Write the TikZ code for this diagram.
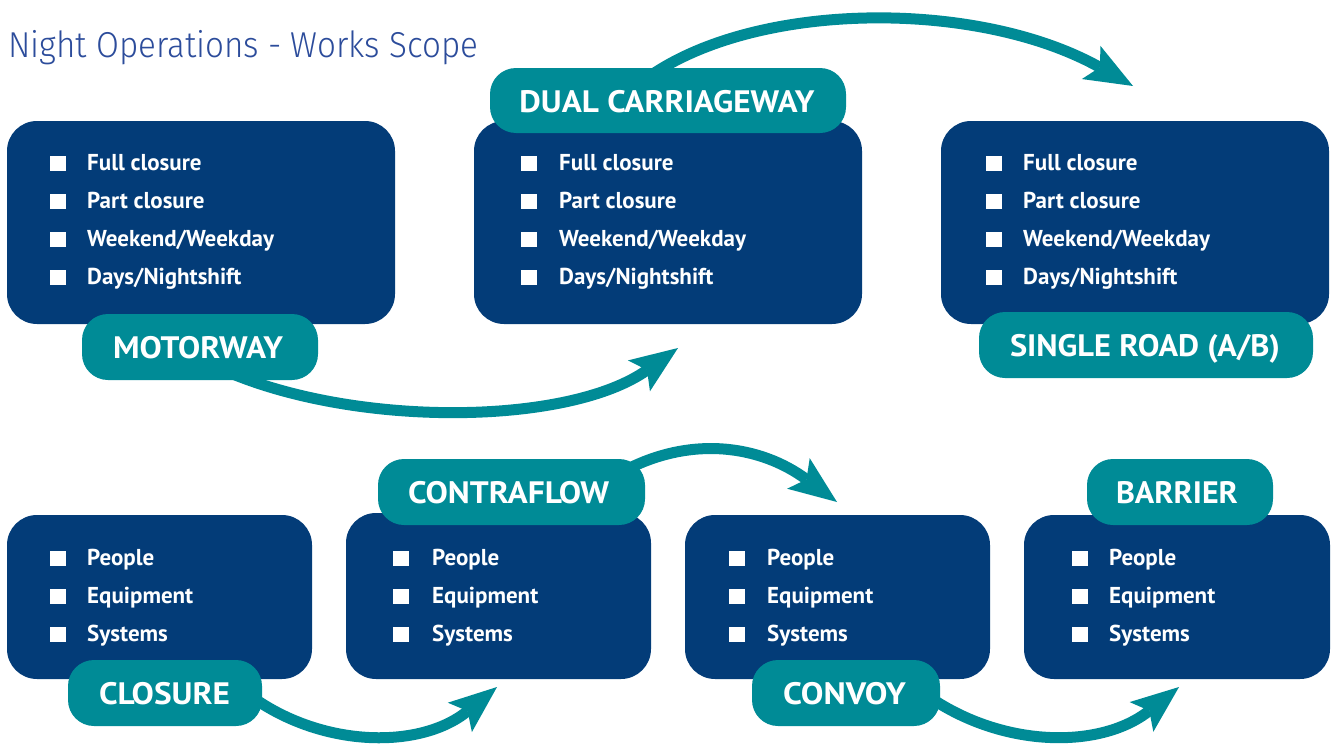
\documentclass[tikz,border=0pt]{standalone}
\usepackage{graphicx}
\usepackage{fontspec}
\setmainfont{PT Sans}
\newfontfamily\titlefont{Fira Sans Light}
\usetikzlibrary{arrows.meta}
\definecolor{navyc}{RGB}{3,60,120}
\definecolor{tealc}{RGB}{0,139,150}
\definecolor{titlec}{RGB}{44,76,155}
\newcommand\fitw[2]{\resizebox{#1}{\height}{#2}}
\tikzset{
  navybox/.style={fill=navyc, rounded corners=30pt, inner sep=0pt},
  lab/.style={fill=tealc, rounded corners=26pt, inner sep=0pt, minimum height=66pt},
  labtxt/.style={anchor=base, text=white, inner sep=0pt, font=\bfseries\fontsize{31}{34}\selectfont},
  item/.style={anchor=base west, text=white, inner sep=0pt, font=\bfseries\fontsize{23}{26}\selectfont},
  bul/.style={fill=white, inner sep=0pt, minimum width=16pt, minimum height=15pt},
  arr/.style={draw=tealc, line width=11pt, -{Stealth[length=48pt,width=38pt,inset=10pt,line width=0pt]}}
}
\begin{document}
\begin{tikzpicture}[x=1pt,y=-1pt]
\useasboundingbox (0,0) rectangle (1336,744);
% title
\node[anchor=base west, inner sep=0pt, text=titlec, font=\titlefont\fontsize{36}{40}\selectfont] (title) at (8,57) {\fitw{470pt}{Night Operations - Works Scope}};
% arrow end points
\coordinate (a1s) at (228,372);
\coordinate (a1e) at (678,348);
\coordinate (a2s) at (650,76);
\coordinate (a2e) at (1133,86);
\coordinate (a3s) at (248,694);
\coordinate (a3e) at (497,687);
\coordinate (a4s) at (925,694);
\coordinate (a4e) at (1179,687);
\coordinate (a5s) at (622,472);
\coordinate (a5e) at (837,502);
% arrows
\draw[arr] (a1s) .. controls (360,428) and (570,425) .. (a1e);
\draw[arr] (a2s) .. controls (760,0) and (980,0) .. (a2e);
\draw[arr] (a3s) .. controls (320,748) and (420,750) .. (a3e);
\draw[arr] (a4s) .. controls (1000,748) and (1100,750) .. (a4e);
\draw[arr] (a5s) .. controls (690,435) and (760,445) .. (a5e);
% top boxes
\node[navybox, minimum width=388pt, minimum height=203pt] (box1) at (201,222.5) {};
\node[navybox, minimum width=388pt, minimum height=203pt] (box2) at (668,222.5) {};
\node[navybox, minimum width=388pt, minimum height=203pt] (box3) at (1135,222.5) {};
% bottom boxes
\node[navybox, minimum width=305pt, minimum height=164pt] (box4) at (159.5,597) {};
\node[navybox, minimum width=305pt, minimum height=166pt] (box5) at (498.5,596) {};
\node[navybox, minimum width=305pt, minimum height=164pt] (box6) at (837.5,597) {};
\node[navybox, minimum width=306pt, minimum height=164pt] (box7) at (1177,597) {};
% top items
\foreach \bx/\tx/\n in {58/87/a, 529/559/b, 994/1023/c} {
  \foreach \t [count=\i] in {Full closure,Part closure,Weekend/Weekday,Days/Nightshift} {
    \pgfmathsetmacro\yy{170+38.33*(\i-1)}
    \node[bul] (\n bul\i) at (\bx,\yy-7) {};
    \node[item] (\n txt\i) at (\tx,\yy) {\t};
  }
}
% bottom items
\foreach \bx/\tx/\n in {58/87/d, 401/432/e, 737/767/f, 1080/1109/g} {
  \foreach \t [count=\i] in {People,Equipment,Systems} {
    \pgfmathsetmacro\yy{565+38*(\i-1)}
    \node[bul] (\n bul\i) at (\bx,\yy-7) {};
    \node[item] (\n txt\i) at (\tx,\yy) {\t};
  }
}
% labels
\node[lab, minimum width=236pt] (mot) at (200,347) {};
\node[labtxt] (mott) at (198,358) {\fitw{170pt}{MOTORWAY}};
\node[lab, minimum width=356pt, minimum height=65pt] (dual) at (668,100.5) {};
\node[labtxt] (dualt) at (667,112) {\fitw{295pt}{DUAL CARRIAGEWAY}};
\node[lab, minimum width=334pt] (sing) at (1146,345) {};
\node[labtxt] (singt) at (1145,356) {\fitw{270pt}{SINGLE ROAD (A/B)}};
\node[lab, minimum width=194pt] (clos) at (165,693) {};
\node[labtxt] (clost) at (164.5,704) {\fitw{131pt}{CLOSURE}};
\node[lab, minimum width=267pt] (contra) at (511.5,492) {};
\node[labtxt] (contrat) at (508.5,503) {\fitw{201pt}{CONTRAFLOW}};
\node[lab, minimum width=188pt] (conv) at (846,693) {};
\node[labtxt] (convt) at (844.5,704) {\fitw{123pt}{CONVOY}};
\node[lab, minimum width=186pt] (barr) at (1180,492) {};
\node[labtxt] (barrt) at (1177,503) {\fitw{122pt}{BARRIER}};
\end{tikzpicture}
\end{document}
